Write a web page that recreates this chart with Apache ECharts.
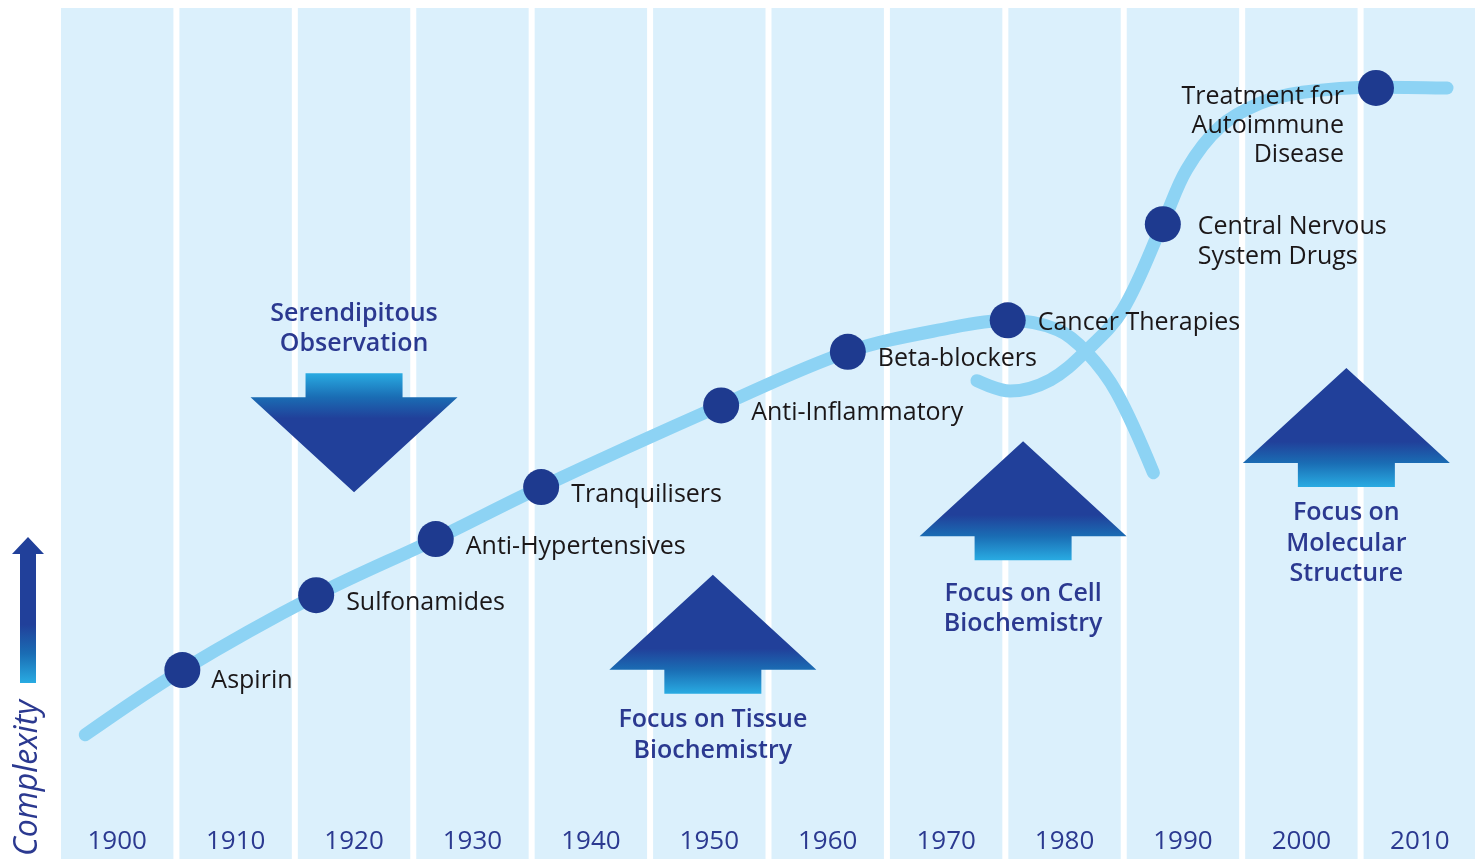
<!DOCTYPE html>
<html><head><meta charset="utf-8">
<script src="https://cdn.jsdelivr.net/npm/echarts@6/dist/echarts.min.js"></script>
<style>html,body{margin:0;padding:0;background:#fff}#c{width:1475px;height:859px}</style>
</head><body><div id="c"></div>
<script>
// ---------- data ----------
const decades = [1900, 1910, 1920, 1930, 1940, 1950, 1960, 1970, 1980, 1990, 2000, 2010];
const yearLabels = ['1900', '1910', '1920', '1930', '1940', '1950', '1960', '1970', '1980', '1990', '2000', '2010'];

const milestoneNames = ['Aspirin', 'Sulfonamides', 'Anti-Hypertensives', 'Tranquilisers', 'Anti-Inflammatory',
  'Beta-blockers', 'Cancer Therapies', 'Central Nervous\nSystem Drugs', 'Treatment for\nAutoimmune\nDisease'];
const milestoneYears = [1905.5, 1916.8, 1926.9, 1935.8, 1951.0, 1961.7, 1975.2, 1988.3, 2006.3];
const milestoneComplexity = [22.2, 31.0, 37.6, 43.7, 53.3, 59.6, 63.3, 74.6, 90.6];

const mainCurveYears = [1897.3, 1905.5, 1916.8, 1926.9, 1935.8, 1951.0, 1961.7, 1970.3, 1975.2, 1979.4, 1981.9, 1984.4, 1987.5];
const mainCurveComplexity = [14.6, 22.2, 31.0, 37.6, 43.7, 53.3, 59.6, 62.4, 63.3, 62.2, 59.5, 54.8, 45.4];

const newCurveYears = [1972.6, 1975.4, 1978.8, 1981.9, 1984.9, 1988.3, 1990.3, 1993.1, 1996.5, 2000.1, 2006.4, 2012.3];
const newCurveComplexity = [56.2, 55.0, 56.3, 59.8, 64.5, 74.7, 81.0, 86.0, 88.8, 90.1, 90.7, 90.6];

const arrowNames = ['Serendipitous\nObservation', 'Focus on Tissue\nBiochemistry', 'Focus on Cell\nBiochemistry', 'Focus on\nMolecular\nStructure'];
const arrowYears = [1920.0, 1950.3, 1976.5, 2003.8];
const arrowTipComplexity = [43.1, 33.4, 49.1, 57.7];
const arrowDirections = [-1, 1, 1, 1]; // -1 = down, 1 = up

// ---------- styles ----------
const FONT = '"Open Sans", "Noto Sans", sans-serif';
const BLUE_TEXT = '#2b3990';
const DARK_TEXT = '#1b1718';
const DOT = '#1e3a8f';
const CURVE = '#8dd3f4';
const COLUMN = '#dbf0fc';
const ARROW_DARK = '#21409a';
const ARROW_MID = '#1a6db4';
const ARROW_LIGHT = '#29abe2';

const labelStyles = {
  'Cancer Therapies': { position: 'right', distance: 12, align: 'left', verticalAlign: 'middle', offset: [0, 3] },
  'Aspirin': { position: 'right', distance: 11, align: 'left', verticalAlign: 'middle', offset: [0, 11] },
  'Central Nervous\nSystem Drugs': { position: 'right', distance: 17, align: 'left', verticalAlign: 'top', offset: [0, -12] },
  'Treatment for\nAutoimmune\nDisease': { position: 'left', distance: 14, align: 'right', verticalAlign: 'top', offset: [0, -6], lineHeight: 29 }
};
const defaultLabel = { position: 'right', distance: 12, align: 'left', verticalAlign: 'middle', offset: [0, 7.5] };
const arrowTextGap = { 'Focus on Cell\nBiochemistry': 18 };

const chart = echarts.init(document.getElementById('c'), null, { renderer: 'canvas' });

function vGradient(stops) {
  return { type: 'linear', x: 0, y: 0, x2: 0, y2: 1, colorStops: stops };
}

const option = {
  animation: false,
  backgroundColor: '#ffffff',
  grid: { left: 58, width: 1421, top: 8, height: 851, outerBoundsMode: 'none', containLabel: false },
  xAxis: {
    type: 'value', min: 1895, max: 2015, interval: 5, z: 10,
    splitLine: { show: false }, axisLine: { show: false }, axisTick: { show: false },
    axisLabel: {
      inside: true, margin: 4, color: BLUE_TEXT, fontSize: 26, fontFamily: FONT,
      formatter: v => { const i = decades.indexOf(v); return i >= 0 ? yearLabels[i] : ''; }
    }
  },
  yAxis: { type: 'value', min: 0, max: 100, show: false },
  graphic: [
    {
      type: 'polygon', z: 10,
      shape: { points: [[28, 537], [44, 554], [36, 554], [36, 683], [20, 683], [20, 554], [12, 554]] },
      style: { fill: vGradient([{ offset: 0, color: ARROW_DARK }, { offset: 0.6, color: ARROW_DARK }, { offset: 0.8, color: ARROW_MID }, { offset: 1, color: ARROW_LIGHT }]) }
    },
    {
      type: 'text', z: 10, x: 28, y: 778, rotation: Math.PI / 2,
      style: { text: 'Complexity', fill: BLUE_TEXT, fontSize: 32, fontStyle: 'italic', fontFamily: FONT, align: 'center', verticalAlign: 'middle' }
    }
  ],
  series: [
    {
      type: 'custom', name: 'columns', z: 0, silent: true,
      data: decades.map(d => [d]),
      renderItem(params, api) {
        const y = api.value(0);
        const l = api.coord([y - 5, 100]);
        const r = api.coord([y + 5, 0]);
        return { type: 'rect', shape: { x: l[0] + 3, y: l[1], width: r[0] - l[0] - 6, height: r[1] - l[1] }, style: { fill: COLUMN } };
      }
    },
    {
      type: 'line', name: 'main', z: 3, smooth: 0.35, symbol: 'none',
      lineStyle: { color: CURVE, width: 13, cap: 'round', join: 'round' },
      data: mainCurveYears.map((x, i) => [x, mainCurveComplexity[i]])
    },
    {
      type: 'line', name: 'new', z: 3, smooth: 0.35, symbol: 'none',
      lineStyle: { color: CURVE, width: 13, cap: 'round', join: 'round' },
      data: newCurveYears.map((x, i) => [x, newCurveComplexity[i]])
    },
    {
      type: 'custom', name: 'arrows', z: 4, silent: true,
      data: arrowYears.map((x, i) => [x, arrowTipComplexity[i], arrowDirections[i]]),
      renderItem(params, api) {
        const p = api.coord([api.value(0), api.value(1)]);
        const dir = api.value(2);
        const cx = p[0], ty = p[1];
        const HW = 103.5, HH = 95, SW = 48.5, SH = 24;
        const by = ty + dir * HH, sy = by + dir * SH;
        const pts = [[cx, ty], [cx + HW, by], [cx + SW, by], [cx + SW, sy], [cx - SW, sy], [cx - SW, by], [cx - HW, by]];
        const stops = dir > 0
          ? [{ offset: 0, color: ARROW_DARK }, { offset: 0.62, color: ARROW_DARK }, { offset: 0.8, color: ARROW_MID }, { offset: 1, color: ARROW_LIGHT }]
          : [{ offset: 0, color: ARROW_LIGHT }, { offset: 0.2, color: ARROW_MID }, { offset: 0.38, color: ARROW_DARK }, { offset: 1, color: ARROW_DARK }];
        const name = arrowNames[params.dataIndex];
        const gap = arrowTextGap[name] != null ? arrowTextGap[name] : 11;
        return {
          type: 'group',
          children: [
            { type: 'polygon', shape: { points: pts }, style: { fill: vGradient(stops) } },
            {
              type: 'text',
              style: {
                text: name, x: cx, y: dir > 0 ? sy + gap : sy - 14,
                align: 'center', verticalAlign: dir > 0 ? 'top' : 'bottom',
                fill: BLUE_TEXT, fontSize: 25, fontWeight: 600, fontFamily: FONT, lineHeight: 30.5
              }
            }
          ]
        };
      }
    },
    {
      type: 'scatter', name: 'milestones', z: 5, symbol: 'circle', symbolSize: 36,
      itemStyle: { color: DOT, opacity: 1 },
      label: { show: true, formatter: p => p.name, color: DARK_TEXT, fontSize: 25, fontFamily: FONT, lineHeight: 30 },
      data: milestoneNames.map((n, i) => ({
        name: n, value: [milestoneYears[i], milestoneComplexity[i]],
        label: Object.assign({}, labelStyles[n] || defaultLabel)
      }))
    }
  ]
};
chart.setOption(option);
</script>
</body></html>
